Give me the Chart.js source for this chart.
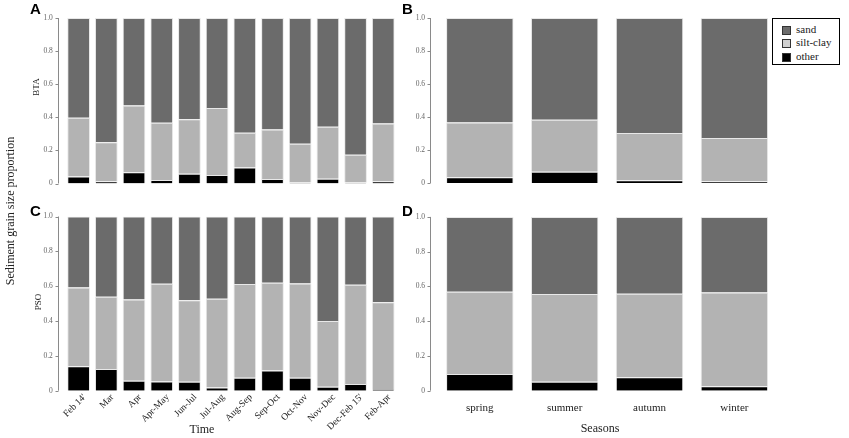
<!DOCTYPE html>
<html><head><meta charset="utf-8">
<script src="https://cdn.jsdelivr.net/npm/chart.js@4.4.0/dist/chart.umd.min.js"></script>
<style>
html,body{margin:0;padding:0;background:#fff;}
body{width:849px;height:438px;position:relative;overflow:hidden;font-family:"Liberation Serif",serif;}
canvas{position:absolute;}
.lab{position:absolute;white-space:nowrap;color:#222;line-height:1;}
.pl{position:absolute;font-family:"Liberation Sans",Arial,sans-serif;font-weight:bold;font-size:15px;color:#000;line-height:1;}
.rot{transform:translate(-50%,-50%) rotate(-90deg);}
.ctr{transform:translate(-50%,-50%);}
#legend{position:absolute;left:772px;top:18px;width:66px;height:45px;border:1.5px solid #000;background:#fff;}
.sw{position:absolute;left:9px;width:7px;height:7px;border:1px solid #333;}
.lt{position:absolute;left:23px;font-size:11px;color:#222;line-height:1;}
</style></head><body>
<canvas id="cA" width="400" height="200" style="left:0;top:0;width:400px;height:200px"></canvas>
<canvas id="cC" width="400" height="238" style="left:0;top:200px;width:400px;height:238px"></canvas>
<canvas id="cB" width="444" height="200" style="left:405px;top:0;width:444px;height:200px"></canvas>
<canvas id="cD" width="444" height="238" style="left:405px;top:200px;width:444px;height:238px"></canvas>

<div class="pl" style="left:30px;top:1px">A</div>
<div class="pl" style="left:402px;top:1px">B</div>
<div class="pl" style="left:30px;top:203px">C</div>
<div class="pl" style="left:402px;top:203px">D</div>

<div class="lab rot" style="left:10px;top:211px;font-size:12px">Sediment grain size proportion</div>
<div class="lab rot" style="left:36px;top:87px;font-size:9px">BTA</div>
<div class="lab rot" style="left:38px;top:302px;font-size:9px">PSO</div>
<div class="lab ctr" style="left:202px;top:429px;font-size:12px">Time</div>
<div class="lab ctr" style="left:600px;top:428px;font-size:12px">Seasons</div>

<div id="legend">
  <div class="sw" style="top:7px;background:#6b6b6b"></div><div class="lt" style="top:5px">sand</div>
  <div class="sw" style="top:20px;background:#d0d0d0"></div><div class="lt" style="top:18px">silt-clay</div>
  <div class="sw" style="top:34px;background:#000"></div><div class="lt" style="top:32px">other</div>
</div>

<script>
// ---- data ----
const monthLabels = ["Feb 14'", "Mar", "Apr", "Apr-May", "Jun-Jul", "Jul-Aug", "Aug-Sep", "Sep-Oct", "Oct-Nov", "Nov-Dec", "Dec-Feb 15'", "Feb-Apr"];
const seasonLabels = ["spring", "summer", "autumn", "winter"];
const yTickValues = [0, 0.2, 0.4, 0.6, 0.8, 1.0];

// A: BTA monthly
const btaMonthOther = [0.042, 0.013, 0.068, 0.021, 0.059, 0.051, 0.097, 0.027, 0.006, 0.028, 0.006, 0.013];
const btaMonthSilt  = [0.356, 0.237, 0.404, 0.346, 0.329, 0.405, 0.210, 0.299, 0.234, 0.315, 0.168, 0.349];
const btaMonthSand  = [0.602, 0.750, 0.528, 0.633, 0.612, 0.544, 0.693, 0.674, 0.760, 0.657, 0.826, 0.638];

// B: BTA seasons
const btaSeasonOther = [0.036, 0.068, 0.017, 0.011];
const btaSeasonSilt  = [0.331, 0.315, 0.286, 0.262];
const btaSeasonSand  = [0.633, 0.617, 0.697, 0.727];

// C: PSO monthly
const psoMonthOther = [0.140, 0.125, 0.057, 0.053, 0.051, 0.019, 0.074, 0.116, 0.074, 0.023, 0.038, 0.010];
const psoMonthSilt  = [0.453, 0.415, 0.466, 0.561, 0.468, 0.509, 0.538, 0.503, 0.542, 0.377, 0.570, 0.498];
const psoMonthSand  = [0.407, 0.460, 0.477, 0.386, 0.481, 0.472, 0.388, 0.381, 0.384, 0.600, 0.392, 0.492];

// D: PSO seasons
const psoSeasonOther = [0.096, 0.051, 0.078, 0.026];
const psoSeasonSilt  = [0.473, 0.505, 0.480, 0.539];
const psoSeasonSand  = [0.431, 0.444, 0.442, 0.435];

// ---- drawing ----
const rAxis = {
  id: 'rAxis',
  afterDraw(chart, args, opts) {
    const y = chart.scales.y, ctx = chart.ctx;
    const x = Math.round(chart.chartArea.left - opts.gap) + 0.5;
    ctx.save();
    ctx.strokeStyle = '#8a8a8a';
    ctx.lineWidth = 1;
    ctx.beginPath();
    ctx.moveTo(x, y.getPixelForValue(0));
    ctx.lineTo(x, y.getPixelForValue(1));
    y.ticks.forEach(t => {
      const py = Math.round(y.getPixelForValue(t.value)) + 0.5;
      ctx.moveTo(x, py); ctx.lineTo(x - 3, py);
    });
    ctx.stroke();
    ctx.restore();
  }
};

function makePanel(id, labels, other, silt, sand, cfg) {
  return new Chart(document.getElementById(id), {
    type: 'bar',
    data: {
      labels: labels,
      datasets: [
        {label: 'other', data: other, backgroundColor: '#000000'},
        {label: 'silt-clay', data: silt, backgroundColor: '#b3b3b3'},
        {label: 'sand', data: sand, backgroundColor: '#6b6b6b'}
      ]
    },
    options: {
      responsive: false,
      animation: false,
      layout: {padding: {top: cfg.top, right: cfg.right, left: 0, bottom: 0}},
      plugins: {legend: {display: false}, tooltip: {enabled: false}, rAxis: {gap: cfg.gap}},
      datasets: {bar: {barPercentage: cfg.bp, categoryPercentage: 1, borderWidth: 1, borderColor: '#e8e8e8'}},
      scales: {
        x: {
          stacked: true,
          grid: {display: false, drawTicks: false},
          border: {display: false},
          ticks: {display: cfg.showX, autoSkip: false, maxRotation: cfg.rot, minRotation: cfg.rot,
                  padding: cfg.xpad, labelOffset: cfg.xoff, color: '#222',
                  font: {family: 'Liberation Serif', size: cfg.xfs}},
          afterFit(s) { s.height = cfg.xh; }
        },
        y: {
          stacked: true, min: 0, max: 1,
          grid: {display: false, drawTicks: false},
          border: {display: false},
          afterBuildTicks(s) { s.ticks = yTickValues.map(v => ({value: v})); },
          ticks: {padding: cfg.ypad, color: '#666', font: {family: 'Liberation Serif', size: 7.5},
                  callback: v => v === 0 ? '0' : Number(v).toFixed(1)},
          afterFit(s) { s.width = cfg.yw; }
        }
      }
    },
    plugins: [rAxis]
  });
}

makePanel('cA', monthLabels, btaMonthOther, btaMonthSilt, btaMonthSand,
  {top: 18, right: 2.9, xh: 6, yw: 64.8, ypad: 12, gap: 7, bp: 0.82, showX: false, rot: 0, xfs: 8, xpad: 0, xoff: 0});
makePanel('cC', monthLabels, psoMonthOther, psoMonthSilt, psoMonthSand,
  {top: 14.7, right: 2.9, xh: 47.3, yw: 64.8, ypad: 12, gap: 7, bp: 0.82, showX: true, rot: 45, xfs: 9.5, xpad: 1, xoff: 6});
makePanel('cB', seasonLabels, btaSeasonOther, btaSeasonSilt, btaSeasonSand,
  {top: 18, right: 72.2, xh: 6, yw: 32.4, ypad: 12.4, gap: 7.4, bp: 0.795, showX: false, rot: 0, xfs: 11, xpad: 0, xoff: 0});
makePanel('cD', seasonLabels, psoSeasonOther, psoSeasonSilt, psoSeasonSand,
  {top: 14, right: 72.2, xh: 47.3, yw: 32.4, ypad: 12.4, gap: 7.4, bp: 0.795, showX: true, rot: 0, xfs: 11, xpad: 11, xoff: 0});
</script>
</body></html>
